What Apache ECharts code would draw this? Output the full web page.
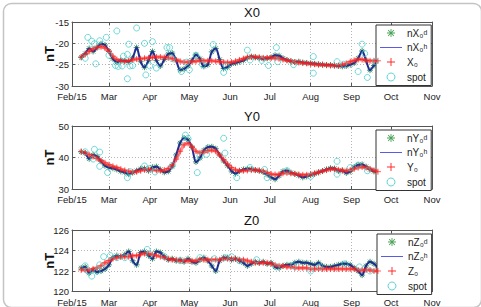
<!DOCTYPE html>
<html><head><meta charset="utf-8">
<script src="https://cdn.jsdelivr.net/npm/echarts@6/dist/echarts.min.js"></script>
<style>html,body{margin:0;padding:0;background:#fff}#c{width:481px;height:307px}</style>
</head><body><div id="c"></div>
<script>
// ---- data (days counted from 2015-02-01) ----
const monthLabels = ['Feb/15','Mar','Apr','May','Jun','Jul','Aug','Sep','Oct','Nov'];
const dayGrid = [7,10,13,16,19,22,25,28,31,34,37,40,43,46,49,52,55,58,61,64,67,70,73,76,79,82,85,88,91,94,97,100,103,106,109,112,115,118,121,124,127,130,133,136,139,142,145,148,151,154,157,160,163,166,169,172,175,178,181,184,187,190,193,196,199,202,205,208,211,214,217,220,223,226,229,232];

const x0Obs = [-23.3,-22.4,-21.2,-21.9,-21.0,-20.1,-20.4,-21.8,-23.6,-24.4,
-24.0,-24.1,-24.3,-23.4,-21.0,-24.2,-25.6,-24.0,-21.9,-24.0,
-25.3,-23.8,-22.5,-22.3,-24.0,-26.2,-26.0,-25.3,-24.0,-22.7,
-23.6,-25.4,-25.0,-22.0,-21.2,-23.8,-25.9,-25.6,-24.8,-24.6,
-24.3,-24.0,-23.4,-23.1,-23.3,-23.4,-23.6,-23.5,-23.3,-22.8,
-22.9,-23.5,-23.9,-24.2,-24.4,-24.3,-24.5,-24.6,-24.7,-24.8,
-24.9,-25.0,-25.1,-25.1,-25.2,-25.3,-25.4,-25.3,-25.0,-24.6,
-23.5,-21.8,-24.0,-26.3,-25.2,-24.5];
const x0Model = [-23.2,-22.6,-21.9,-21.3,-20.9,-20.8,-21.1,-21.9,-23.0,-23.8,
-24.1,-24.2,-24.1,-23.9,-23.7,-23.6,-23.5,-23.4,-23.3,-23.2,
-23.2,-23.3,-23.4,-23.6,-23.9,-24.2,-24.4,-24.4,-24.3,-24.2,
-24.1,-24.1,-24.1,-24.1,-24.2,-24.3,-24.4,-24.5,-24.4,-24.2,
-23.9,-23.6,-23.3,-23.2,-23.2,-23.3,-23.4,-23.4,-23.4,-23.5,
-23.6,-23.8,-24.0,-24.2,-24.4,-24.5,-24.6,-24.7,-24.8,-24.9,
-25.0,-25.0,-25.1,-25.2,-25.2,-25.2,-25.0,-24.7,-24.3,-24.0,
-23.8,-23.8,-24.0,-24.1,-24.1,-24.1];
const x0SpotDays = [10,12,15,17,18,21,26,28,33,34,35,38,39,42,42,43,44,46,49,55,56,59,61,64,72,74,76,83,87,89,94,99,107,115,117,133,135,144,149,155,156,168,183,183,201,206,217,220,222,224,230];
const x0SpotVals = [-23.5,-18.6,-19.5,-20.1,-24.8,-19.4,-18.6,-22.8,-25.2,-17.1,-25.4,-25.3,-23.0,-22.6,-28.3,-20.2,-25.3,-25.2,-16.4,-20.0,-27.4,-25.3,-19.6,-25.8,-21.0,-21.0,-23.6,-26.6,-24.4,-26.2,-22.8,-25.0,-20.3,-26.8,-25.3,-21.6,-23.9,-24.0,-25.2,-21.0,-24.3,-25.0,-23.1,-27.0,-24.3,-24.9,-26.6,-20.2,-22.4,-28.0,-24.3];

const y0Obs = [41.8,41.4,39.6,40.8,40.3,38.8,37.4,36.8,36.6,36.2,
35.6,35.3,34.7,35.2,35.8,36.4,36.5,35.8,36.9,37.1,
36.2,35.3,35.6,37.2,40.8,44.6,46.2,45.6,43.2,38.6,
39.8,42.3,43.3,43.4,42.8,40.8,38.9,37.4,35.7,34.9,
35.7,36.2,36.4,36.3,36.0,35.8,35.4,34.6,33.7,33.1,
34.2,35.6,35.8,35.2,34.8,34.3,33.7,34.0,34.5,34.8,
35.3,35.7,36.2,36.6,36.5,35.7,35.9,35.1,35.6,37.0,
37.6,37.8,37.1,36.2,35.6,35.4];
const y0Model = [41.9,41.4,40.9,40.3,39.7,39.0,38.3,37.7,37.2,36.8,
36.3,35.9,35.6,35.4,35.5,35.8,36.1,36.2,36.1,35.9,
35.8,36.0,36.5,37.6,39.5,42.0,44.0,44.5,43.4,42.0,
41.5,41.7,42.1,42.3,42.0,40.8,39.3,37.9,36.8,36.1,
35.8,35.8,35.9,36.0,36.0,35.9,35.6,35.2,34.8,34.6,
34.7,35.0,35.1,35.0,34.8,34.6,34.5,34.5,34.7,35.0,
35.3,35.7,36.0,36.3,36.3,36.1,35.9,35.8,36.0,36.4,
36.8,37.0,36.8,36.4,35.9,35.5];
const y0SpotDays = [10,16,17,21,21,27,42,44,55,59,63,76,86,88,95,97,102,115,116,125,135,146,148,163,181,201,201,211,217,224];
const y0SpotVals = [41.8,39.5,42.6,41.7,37.2,35.2,33.6,35.5,37.3,36.5,35.4,37.5,47.1,46.0,35.2,40.5,41.0,46.1,41.4,33.6,36.8,36.2,33.6,35.8,34.0,38.8,34.7,36.8,37.6,35.8];

const z0Obs = [122.3,122.4,121.8,122.1,121.9,122.0,122.2,122.6,123.3,123.5,
123.4,123.6,123.9,123.0,122.6,123.8,123.9,123.5,123.2,123.9,
123.8,123.4,123.1,123.2,123.0,123.1,122.9,123.2,122.9,122.8,
123.1,123.3,123.0,122.5,122.0,123.0,123.3,123.3,123.1,123.2,
123.0,122.8,122.5,122.7,122.9,122.8,122.9,122.7,122.8,122.4,
122.3,122.5,122.6,122.6,122.8,122.9,122.8,122.8,122.7,122.6,
122.8,122.5,122.4,122.4,122.5,122.6,122.7,122.7,122.6,122.3,
122.0,121.6,122.5,122.9,122.7,122.3];
const z0Model = [122.1,122.1,122.1,122.2,122.3,122.5,122.8,123.0,123.2,123.3,
123.4,123.4,123.4,123.5,123.5,123.6,123.7,123.7,123.6,123.5,
123.4,123.3,123.2,123.1,123.1,123.0,123.0,123.0,123.0,123.0,
123.1,123.1,123.1,123.1,123.1,123.1,123.2,123.2,123.2,123.2,
123.1,123.1,123.0,122.9,122.8,122.8,122.8,122.8,122.7,122.6,
122.5,122.5,122.4,122.4,122.3,122.3,122.3,122.3,122.2,122.2,
122.2,122.2,122.2,122.2,122.2,122.2,122.2,122.2,122.2,122.2,
122.1,122.1,122.1,122.1,122.0,122.0];
const z0SpotDays = [10,12,15,19,21,24,29,34,40,57,59,70,82,97,108,116,121,127,140,155,168,181,188,207,218,226];
const z0SpotVals = [122.5,122.0,121.5,122.0,122.6,123.4,123.5,123.3,123.3,124.1,123.6,123.4,123.0,123.3,123.2,123.3,123.4,123.0,123.1,122.4,122.5,122.0,122.4,122.7,122.4,122.0];

// ---- helpers ----
const t = d => new Date(2015, 1, 1 + d).getTime();
const pairs = (days, vals) => days.map((d, i) => [t(d), vals[i]]);
const FONT = 'Liberation Sans, Arial, DejaVu Sans, sans-serif';
const starPath = 'path://M0,5L10,5M5,0L5,10M1.5,1.5L8.5,8.5M8.5,1.5L1.5,8.5';
const plusPath = 'path://M0,5L10,5M5,0L5,10';
const plusFill = 'path://M4.4,0H5.6V4.4H10V5.6H5.6V10H4.4V5.6H0V4.4H4.4Z';
const starFill = 'path://M4.45,0H5.55V3.7L8.2,1.05L8.95,1.8L6.3,4.45H10V5.55H6.3L8.95,8.2L8.2,8.95L5.55,6.3V10H4.45V6.3L1.8,8.95L1.05,8.2L3.7,5.55H0V4.45H3.7L1.05,1.8L1.8,1.05L4.45,3.7Z';
const linePath = 'path://M0,0L24,0L24,1.1L0,1.1Z';
const GREEN = '#137a4c', BLUE = '#1f2c92', RED = '#ff2a2a', CYAN = '#3cc8c8', LEGBLUE = '#5a5ae6';

const panels = [
  {key:'X', title:'X0', obs:x0Obs, model:x0Model, sd:x0SpotDays, sv:x0SpotVals, min:-30, max:-15, interval:5, top:22, height:64, lg:{left:376, top:25}},
  {key:'Y', title:'Y0', obs:y0Obs, model:y0Model, sd:y0SpotDays, sv:y0SpotVals, min:30, max:50, interval:10, top:126, height:63, lg:{left:376, top:130}},
  {key:'Z', title:'Z0', obs:z0Obs, model:z0Model, sd:z0SpotDays, sv:z0SpotVals, min:120, max:126, interval:2, top:230, height:64, lg:{left:377, top:234}}
];
const legendText = {};
panels.forEach(p => {
  legendText[p.key+'d'] = 'n' + p.key + '\u2080\u1D48';
  legendText[p.key+'h'] = 'n' + p.key + '\u2080\u02B0';
  legendText[p.key+'m'] = p.key + '\u2080';
  legendText[p.key+'s'] = 'spot';
});

const tMin = t(0), tMax = t(273);
const grid = [], xAxis = [], yAxis = [], series = [], legend = [], title = [];
panels.forEach((p, i) => {
  grid.push({left:72, top:p.top, width:360, height:p.height, show:false});
  xAxis.push({type:'time', gridIndex:i, min:tMin, max:tMax, splitNumber:9,
    minInterval:28*86400000, maxInterval:31*86400000,
    position:'bottom',
    axisLine:{show:true, lineStyle:{color:'#555', width:1}},
    axisTick:{show:true, inside:true, length:3, lineStyle:{color:'#555'}},
    axisLabel:{show:true, margin:5.5, fontSize:9.5, lineHeight:10, color:'#222', fontFamily:FONT, hideOverlap:false,
      showMinLabel:true, showMaxLabel:true,
      formatter: v => { const m = new Date(v).getMonth(); return monthLabels[m-1] || ''; }},
    splitLine:{show:true, lineStyle:{color:'#b5b5b5', type:[1,2], width:1}}
  });
  yAxis.push({type:'value', gridIndex:i, min:p.min, max:p.max, interval:p.interval, position:'left',
    name:'nT', nameLocation:'middle', nameGap:16, nameRotate:90, nameMoveOverlap:false,
    nameTextStyle:{fontSize:13, fontWeight:'bold', color:'#111', fontFamily:FONT},
    axisLine:{show:true, lineStyle:{color:'#555', width:1}},
    axisTick:{show:true, inside:true, length:3, lineStyle:{color:'#555'}},
    axisLabel:{margin:3, fontSize:9.5, lineHeight:10, color:'#222', fontFamily:FONT},
    splitLine:{show:true, lineStyle:{color:'#b5b5b5', type:[1,2], width:1}}
  });
  title.push({text:p.title, left:244, top:p.top-16, padding:0,
    textStyle:{fontSize:13, fontWeight:'normal', color:'#111', fontFamily:FONT}});
  const obs = pairs(dayGrid, p.obs);
  series.push({name:p.key+'d', type:'scatter', xAxisIndex:i, yAxisIndex:i, data:obs,
    symbol:starPath, symbolSize:6, silent:true, z:2,
    itemStyle:{color:'none', borderColor:GREEN, borderWidth:1}});
  series.push({name:p.key+'h', type:'line', xAxisIndex:i, yAxisIndex:i, data:obs,
    symbol:'none', smooth:0.3, silent:true, z:3,
    lineStyle:{color:BLUE, width:2}});
  series.push({name:p.key+'m', type:'line', xAxisIndex:i, yAxisIndex:i, data:pairs(dayGrid, p.model),
    symbol:plusPath, symbolSize:6, showSymbol:true, showAllSymbol:true, smooth:0.3, silent:true, z:4,
    lineStyle:{color:'rgba(255,50,50,0.55)', width:3.5},
    itemStyle:{color:'none', borderColor:'rgba(255,30,30,0.85)', borderWidth:0.9}});
  series.push({name:p.key+'s', type:'scatter', xAxisIndex:i, yAxisIndex:i, data:pairs(p.sd, p.sv),
    symbol:'circle', symbolSize:6, silent:true, z:5,
    itemStyle:{color:'none', borderColor:CYAN, borderWidth:0.9}});
  legend.push({orient:'vertical', left:p.lg.left, top:p.lg.top, selectedMode:false,
    itemWidth:22, itemHeight:8, itemGap:2.5, padding:[2,4,2,4],
    backgroundColor:'#fff', borderColor:'#333', borderWidth:1, borderRadius:0,
    textStyle:{fontSize:10, color:'#222', fontFamily:FONT, lineHeight:12},
    formatter: n => legendText[n],
    data:[
      {name:p.key+'d', icon:starFill, itemStyle:{color:'#1c8c2c', borderColor:'#1c8c2c', borderWidth:0}},
      {name:p.key+'h', icon:linePath, itemStyle:{color:LEGBLUE, borderColor:LEGBLUE, borderWidth:0}},
      {name:p.key+'m', icon:plusFill, itemStyle:{color:RED, borderColor:RED, borderWidth:0}},
      {name:p.key+'s', icon:'circle', itemStyle:{color:'none', borderColor:CYAN, borderWidth:1}}
    ]});
});
// mirrored axes (top / right) carrying the inward ticks of the box
panels.forEach((p, i) => {
  xAxis.push({type:'time', gridIndex:i, min:tMin, max:tMax, splitNumber:9,
    minInterval:28*86400000, maxInterval:31*86400000, position:'top',
    axisLine:{show:true, lineStyle:{color:'#555'}}, axisTick:{show:true, inside:true, length:3, lineStyle:{color:'#555'}},
    axisLabel:{show:false}, splitLine:{show:false}});
  yAxis.push({type:'value', gridIndex:i, min:p.min, max:p.max, interval:p.interval, position:'right',
    axisLine:{show:true, lineStyle:{color:'#555'}}, axisTick:{show:true, inside:true, length:3, lineStyle:{color:'#555'}},
    axisLabel:{show:false}, splitLine:{show:false}});
});

const chart = echarts.init(document.getElementById('c'), null, {renderer:'svg'});
chart.setOption({
  animation:false, backgroundColor:'#fff',
  title, grid, xAxis, yAxis, series, legend,
  graphic:[{type:'rect', left:1, top:1, shape:{width:478, height:304, r:8}, silent:true,
    style:{fill:'none', stroke:'#c4c4c4', lineWidth:1.5}}]
});
</script></body></html>
